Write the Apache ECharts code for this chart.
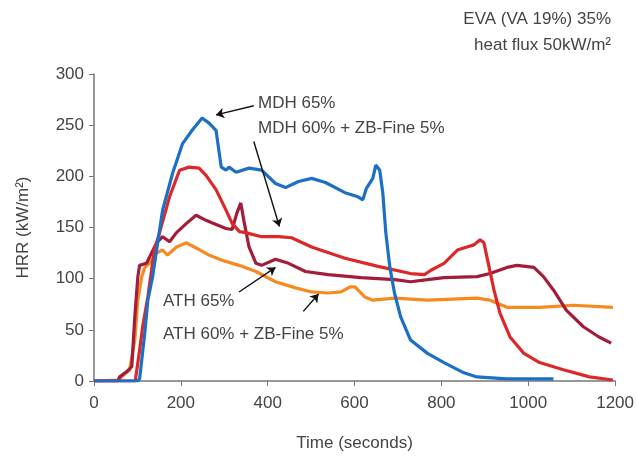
<!DOCTYPE html>
<html>
<head>
<meta charset="utf-8">
<script src="https://cdn.jsdelivr.net/npm/echarts@6/dist/echarts.min.js"></script>
<style>
  html, body { margin: 0; padding: 0; background: #fff; }
  #chart { width: 637px; height: 458px; }
</style>
</head>
<body>
<div id="chart"></div>
<script>
    // HRR curves, [time s, kW/m2]
    var mdh65 = [[0, 0], [100, 0], [105, 2], [117, 47], [124, 79], [135, 102], [158, 167], [181, 203], [204, 232],
        [226, 245], [249, 257], [265, 252], [281, 245], [293, 209], [304, 206], [311, 209], [327, 204],
        [357, 208], [386, 206], [418, 193], [441, 189], [471, 195], [501, 198], [533, 194], [578, 184],
        [608, 180], [619, 177], [627, 188], [642, 198], [649, 211], [658, 206], [665, 184], [672, 145],
        [681, 112], [692, 86], [706, 63], [729, 40], [768, 27], [806, 18], [852, 8], [882, 4], [950, 2],
        [1000, 2], [1058, 2]];
    var mdh60zb = [[0, 0], [95, 0], [105, 30], [112, 53], [124, 82], [139, 128], [151, 145], [174, 180],
        [197, 206], [219, 209], [242, 208], [258, 201], [281, 187], [304, 167], [318, 154], [335, 146],
        [349, 145], [386, 141], [425, 141], [455, 140], [501, 131], [578, 120], [654, 112], [729, 105],
        [761, 104], [775, 108], [806, 115], [837, 128], [859, 131], [875, 133], [889, 138], [898, 135],
        [910, 111], [921, 89], [935, 66], [958, 43], [990, 27], [1026, 18], [1081, 11], [1141, 4], [1195, 1]];
    var ath65 = [[0, 0], [55, 0], [59, 4], [75, 9], [87, 14], [94, 63], [101, 102], [105, 113], [121, 115],
        [144, 135], [158, 141], [174, 136], [190, 145], [213, 154], [235, 162], [258, 157], [281, 153],
        [304, 149], [318, 148], [329, 164], [338, 174], [345, 157], [357, 131], [373, 115], [386, 113],
        [418, 119], [448, 115], [487, 107], [539, 104], [615, 101], [693, 99], [729, 97], [768, 99],
        [806, 101], [882, 102], [912, 105], [951, 111], [974, 113], [1013, 111], [1035, 102], [1058, 89],
        [1088, 69], [1127, 53], [1163, 43], [1191, 37]];
    var ath60zb = [[0, 0], [55, 1], [82, 11], [94, 40], [101, 79], [110, 102], [117, 111], [128, 115],
        [144, 125], [158, 128], [169, 123], [190, 131], [213, 135], [235, 130], [265, 123], [295, 118],
        [334, 113], [373, 107], [418, 97], [464, 91], [501, 87], [539, 86], [569, 87], [590, 92], [601, 92],
        [624, 82], [642, 79], [693, 81], [768, 79], [882, 81], [912, 79], [951, 72], [1026, 72], [1104, 74],
        [1195, 72]];

    var xTicks = [0, 200, 400, 600, 800, 1000, 1200];
    var yTicks = [0, 50, 100, 150, 200, 250, 300];

    // annotation arrows, [tail, head] in data units
    var arrows = [
        [[368, 269], [281, 260]],
        [[368, 234], [427, 151]],
        [[334, 87], [418, 111]],
        [[482, 68], [517, 85]]
    ];

    var font = 'Liberation Sans';
    var txt = '#444';

    var myChart = echarts.init(document.getElementById('chart'));

    function line(name, data, color) {
        return {
            name: name, type: 'line', data: data, showSymbol: false, smooth: false,
            lineStyle: { color: color, width: 3.2 }, itemStyle: { color: color }, z: 3
        };
    }

    var series = [
        line('ATH 60% + ZB-Fine 5%', ath60zb, '#f68a1e'),
        line('ATH 65%', ath65, '#a21d3a'),
        line('MDH 60% + ZB-Fine 5%', mdh60zb, '#dc2828'),
        line('MDH 65%', mdh65, '#1c6fc4')
    ];
    series[3].markLine = {
        silent: true,
        symbol: ['none', 'arrow'],
        symbolSize: 8,
        label: { show: false },
        lineStyle: { color: '#111', width: 1.4, type: 'solid' },
        data: arrows.map(function (a) { return [{ coord: a[0] }, { coord: a[1] }]; })
    };

    var option = {
        animation: false,
        backgroundColor: '#fff',
        grid: { left: 94, right: 18, top: 74, bottom: 77 },
        xAxis: {
            type: 'value', min: 0, max: 1200, interval: 200,
            name: 'Time (seconds)', nameLocation: 'middle', nameGap: 54,
            nameTextStyle: { fontFamily: font, fontSize: 17, color: txt },
            axisLine: { lineStyle: { color: '#777', width: 1.5 } },
            axisTick: { show: true, length: 5, lineStyle: { color: '#777' } },
            axisLabel: {
                fontFamily: font, fontSize: 17, color: txt, margin: 14,
                formatter: function (v) { return String(v); }
            },
            splitLine: { show: false }
        },
        yAxis: {
            type: 'value', min: 0, max: 300, interval: 50,
            name: 'HRR (kW/m²)', nameLocation: 'middle', nameGap: 62, nameRotate: 90,
            nameTextStyle: { fontFamily: font, fontSize: 17, color: txt },
            axisLine: { show: true, lineStyle: { color: '#777', width: 1.5 } },
            axisTick: { show: true, length: 5, lineStyle: { color: '#777' } },
            axisLabel: { fontFamily: font, fontSize: 17, color: txt, margin: 10 },
            splitLine: { show: false }
        },
        graphic: [
            { type: 'text', right: 26, top: 11, style: { text: 'EVA (VA 19%) 35%', font: '17px ' + font, fill: txt, textAlign: 'right' } },
            { type: 'text', right: 26, top: 37, style: { text: 'heat flux 50kW/m²', font: '17px ' + font, fill: txt, textAlign: 'right' } },
            { type: 'text', left: 258, top: 95, style: { text: 'MDH 65%', font: '17px ' + font, fill: txt } },
            { type: 'text', left: 258, top: 120, style: { text: 'MDH 60% + ZB-Fine 5%', font: '17px ' + font, fill: txt } },
            { type: 'text', left: 163, top: 293, style: { text: 'ATH 65%', font: '17px ' + font, fill: txt } },
            { type: 'text', left: 163, top: 326, style: { text: 'ATH 60% + ZB-Fine 5%', font: '17px ' + font, fill: txt } }
        ],
        series: series
    };

    myChart.setOption(option);
</script>
</body>
</html>
